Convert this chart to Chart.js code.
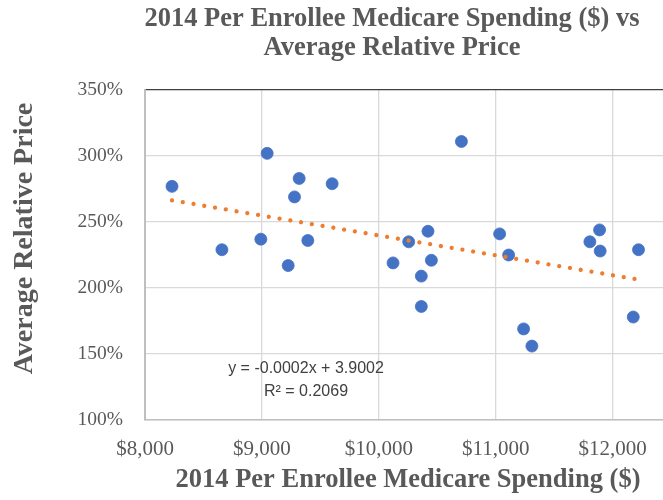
<!DOCTYPE html>
<html>
<head>
<meta charset="utf-8">
<title>Medicare Spending vs Relative Price</title>
<script src="https://cdn.jsdelivr.net/npm/chart.js@4.4.1/dist/chart.umd.min.js"></script>
<style>
  html, body { margin: 0; padding: 0; background: #fff; overflow: hidden; }
  #wrap { width: 784px; height: 500px; }
</style>
</head>
<body>
<div id="wrap"><canvas id="spendChart" width="784" height="500"></canvas></div>
<script>
// per enrollee spending ($) and average relative price (1 = 100%)
const spending = [8231, 8658, 8991, 9045, 9225, 9279, 9319, 9393, 9601, 10122, 10256, 10364, 10364,
  10421, 10450, 10707, 11034, 11111, 11239, 11310, 11806, 11889, 11894, 12177, 12222];
const relPrice = [2.77, 2.29, 2.37, 3.02, 2.17, 2.69, 2.83, 2.36, 2.79, 2.19, 2.35, 2.09, 1.86,
  2.43, 2.21, 3.11, 2.41, 2.25, 1.69, 1.56, 2.35, 2.44, 2.28, 1.78, 2.29];

const xTicks = [8000, 9000, 10000, 11000, 12000];
const yTicks = [1.0, 1.5, 2.0, 2.5, 3.0, 3.5];

const chartTitle = ['2014 Per Enrollee Medicare Spending ($) vs', 'Average Relative Price'];
const xTitle = '2014 Per Enrollee Medicare Spending ($)';
const yTitle = 'Average Relative Price';
const trendText = ['y = -0.0002x + 3.9002', 'R\u00B2 = 0.2069'];

const serif = "'Liberation Serif', 'Times New Roman', serif";
const grey = '#595959';

// least squares line, drawn from the smallest to the largest x like Excel does
function linearFit(xs, ys) {
  const n = xs.length;
  const mx = xs.reduce((a, b) => a + b, 0) / n;
  const my = ys.reduce((a, b) => a + b, 0) / n;
  let sxy = 0, sxx = 0;
  for (let i = 0; i < n; i++) {
    sxy += (xs[i] - mx) * (ys[i] - my);
    sxx += (xs[i] - mx) * (xs[i] - mx);
  }
  const m = sxy / sxx;
  return { m: m, b: my - m * mx };
}

const fit = linearFit(spending, relPrice);
const xLo = Math.min(...spending);
const xHi = Math.max(...spending);
const trendPoints = [
  { x: xLo, y: fit.b + fit.m * xLo },
  { x: xHi, y: fit.b + fit.m * xHi }
];
const points = spending.map((x, i) => ({ x: x, y: relPrice[i] }));

// chart title, rotated y title and the trendline label
const excelText = {
  id: 'excelText',
  afterDraw(chart) {
    const ctx = chart.ctx;
    ctx.save();
    ctx.fillStyle = grey;
    ctx.textAlign = 'center';
    ctx.textBaseline = 'middle';

    ctx.font = 'bold 26.5px ' + serif;
    chartTitle.forEach((line, i) => ctx.fillText(line, 392, 19.5 + i * 28.2));

    ctx.font = '16px "Liberation Sans", Arial, sans-serif';
    ctx.fillStyle = '#404040';
    ctx.fillText(trendText[0], 306, 369);
    ctx.fillText(trendText[1], 306, 392);

    ctx.fillStyle = grey;
    ctx.translate(25, 238.5);
    ctx.rotate(-Math.PI / 2);
    ctx.font = 'bold 28px ' + serif;
    ctx.fillText(yTitle, 0, 0);
    ctx.restore();
  }
};

const ctx = document.getElementById('spendChart').getContext('2d');

const chart = new Chart(ctx, {
  type: 'scatter',
  data: {
    datasets: [
      {
        label: 'Linear trend',
        data: trendPoints,
        showLine: true,
        borderColor: '#ED7D31',
        borderWidth: 4.3,
        borderDash: [0.01, 10.9],
        borderCapStyle: 'round',
        pointRadius: 0,
        order: 0
      },
      {
        label: 'Average relative price',
        data: points,
        backgroundColor: '#4472C4',
        borderColor: '#4472C4',
        borderWidth: 0.8,
        pointRadius: 6,
        pointHoverRadius: 6,
        order: 1
      }
    ]
  },
  options: {
    responsive: false,
    animation: false,
    layout: { padding: { top: 90, left: 0, right: 113, bottom: 0 } },
    plugins: {
      legend: { display: false },
      tooltip: { enabled: false }
    },
    scales: {
      x: {
        type: 'linear',
        min: 8000,
        max: 12500,
        afterBuildTicks: s => { s.ticks = xTicks.map(v => ({ value: v })); },
        afterFit: s => { s.height = 80; },
        ticks: {
          callback: v => '$' + v.toLocaleString('en-US'),
          font: { family: serif, size: 21 },
          color: grey,
          padding: 17,
          maxRotation: 0,
          autoSkip: false
        },
        grid: { color: '#D9D9D9', lineWidth: 1.3, drawTicks: false },
        border: { color: '#BFBFBF', width: 1.5 },
        title: {
          display: true,
          text: xTitle,
          font: { family: serif, size: 26.5, weight: 'bold' },
          color: grey,
          padding: { top: 4, bottom: 4 }
        }
      },
      y: {
        min: 1,
        max: 3.5,
        afterBuildTicks: s => { s.ticks = yTicks.map(v => ({ value: v })); },
        afterFit: s => { s.width = 145; },
        ticks: {
          callback: v => Math.round(v * 100) + '%',
          font: { family: serif, size: 19.5 },
          color: grey,
          padding: 22
        },
        grid: {
          color: c => (c.tick && c.tick.value === 3.5 ? '#404040' : '#D9D9D9'),
          lineWidth: 1.3,
          drawTicks: false
        },
        border: { color: '#BFBFBF', width: 2 }
      }
    }
  },
  plugins: [excelText]
});
</script>
</body>
</html>
